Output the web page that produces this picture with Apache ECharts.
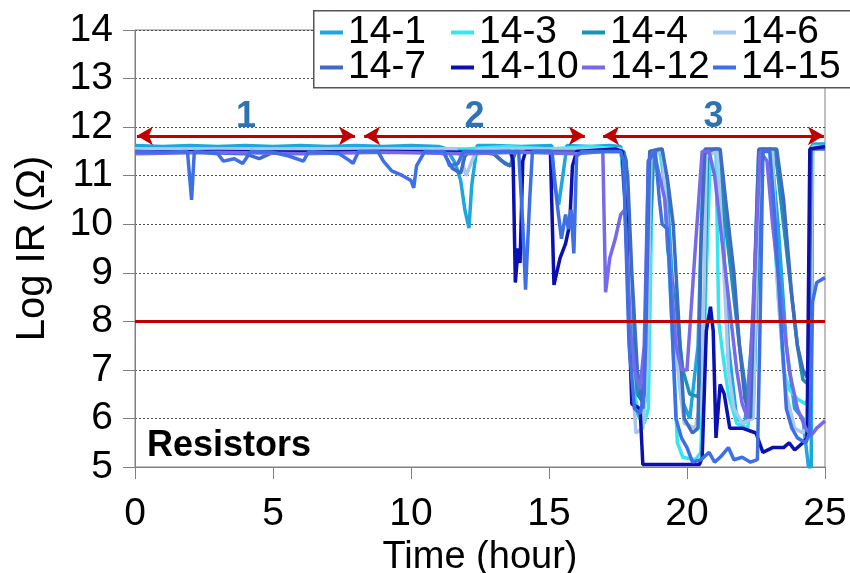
<!DOCTYPE html>
<html><head><meta charset="utf-8">
<script src="https://cdn.jsdelivr.net/npm/echarts@6/dist/echarts.min.js"></script>
<style>html,body{margin:0;padding:0;background:#fff}#c{width:850px;height:573px}</style>
</head><body><div id="c"></div>
<script>
// ---- data (time in hours, Log IR) ----
const seriesNames = ['14-1','14-3','14-4','14-6','14-7','14-10','14-12','14-15'];
const s14_1 = [[0,11.62],[1,11.6],[2,11.62],[3,11.6],[4,11.62],[5,11.6],[6,11.62],[7,11.6],[8,11.62],[9,11.6],[10,11.62],[11,11.6],[11.3,11.55],[11.45,11.4],[11.6,11.26],[11.8,10.9],[11.95,10.3],[12.1,9.92],[12.2,10.8],[12.4,11.62],[13,11.62],[14,11.6],[15.1,11.62],[15.2,10.8],[15.35,10.4],[15.5,11.0],[15.65,11.62],[16.5,11.6],[17.2,11.62],[17.6,11.6],[17.75,10.5],[17.95,7.5],[18.1,6.2],[18.3,6.0],[18.5,6.4],[18.65,11.5],[19.0,11.55],[19.25,11.0],[19.5,8.5],[19.8,6.4],[20.1,6.0],[20.4,7.5],[20.6,11.5],[21.05,11.55],[21.25,10.5],[21.5,7.5],[21.8,6.0],[22.1,5.9],[22.4,8.0],[22.6,11.5],[23.05,11.55],[23.3,10.0],[23.6,7.5],[23.9,6.2],[24.2,6.0],[24.4,5.0],[24.5,5.0],[24.55,11.65],[25,11.65]];
const s14_3 = [[0,11.55],[3,11.55],[6,11.55],[9,11.55],[12,11.55],[13.5,11.6],[15,11.55],[16.5,11.6],[17.6,11.55],[17.75,10.8],[17.9,9.0],[18.1,6.5],[18.3,6.0],[18.45,5.9],[18.6,6.2],[18.75,11.4],[19.0,11.55],[19.2,10.8],[19.45,8.0],[19.65,5.5],[19.85,5.2],[20.3,5.15],[20.5,5.3],[20.7,9.0],[20.85,11.5],[21.05,11.5],[21.15,8.0],[21.3,7.3],[21.5,6.5],[21.8,5.9],[22.2,5.8],[22.45,7.0],[22.65,11.5],[23.0,11.55],[23.25,9.0],[23.5,7.0],[23.7,6.6],[24.0,6.4],[24.3,6.3],[24.45,6.5],[24.52,11.6],[25,11.6]];
const s14_4 = [[0,11.52],[4,11.5],[8,11.52],[12,11.5],[13,11.45],[13.3,11.3],[13.6,11.2],[13.8,11.5],[16,11.52],[17.7,11.5],[17.8,11.3],[18.0,8.0],[18.2,6.5],[18.45,6.3],[18.6,9.0],[18.8,11.5],[19.1,11.55],[19.3,9.5],[19.55,8.5],[19.85,7.0],[20.1,6.5],[20.4,6.45],[20.6,7.5],[20.75,11.5],[21.1,11.55],[21.35,10.2],[21.6,9.0],[21.9,7.5],[22.2,6.3],[22.4,6.2],[22.55,9.0],[22.75,11.55],[23.2,11.5],[23.4,10.5],[23.7,9.0],[24.0,7.5],[24.2,6.8],[24.4,6.7],[24.5,11.6],[25,11.6]];
const s14_6 = [[0,11.55],[5,11.55],[10,11.55],[11.6,11.55],[11.8,11.4],[12.0,11.0],[12.2,11.3],[12.4,11.55],[17.6,11.55],[17.8,11.0],[18.0,7.0],[18.15,5.7],[18.4,5.8],[18.55,7.0],[18.7,11.5],[19.1,11.5],[19.4,9.0],[19.7,6.8],[19.9,5.9],[20.3,5.8],[20.55,6.5],[20.7,11.4],[21.1,11.5],[21.3,9.5],[21.5,7.0],[21.7,6.2],[22.0,5.9],[22.4,6.0],[22.55,10.0],[22.7,11.55],[23.1,11.5],[23.3,8.5],[23.6,6.5],[23.9,5.8],[24.2,5.7],[24.45,5.9],[24.55,11.6],[25,11.6]];
const s14_7 = [[0,11.5],[2,11.48],[4,11.45],[4.5,11.35],[5,11.48],[8,11.5],[10.5,11.5],[11.2,11.45],[11.5,11.15],[11.8,11.05],[11.95,11.4],[12.1,11.5],[13.0,11.45],[13.4,11.25],[13.6,11.2],[13.75,11.5],[16.5,11.5],[17.7,11.5],[17.85,11.0],[18.0,9.0],[18.2,7.0],[18.4,6.2],[18.5,7.5],[18.65,11.5],[19.1,11.55],[19.3,10.9],[19.5,10.0],[19.7,8.0],[19.9,6.0],[20.2,5.7],[20.4,5.8],[20.5,9.5],[20.65,11.55],[21.2,11.55],[21.4,10.5],[21.7,9.0],[21.9,7.5],[22.1,6.4],[22.3,6.0],[22.45,9.0],[22.6,11.55],[23.25,11.55],[23.5,10.5],[23.8,8.5],[24.0,7.5],[24.2,7.0],[24.4,6.8],[24.5,11.55],[25,11.55]];
const s14_10 = [[0,11.48],[3,11.5],[6,11.48],[9,11.5],[12,11.48],[13.6,11.5],[13.7,11.3],[13.78,8.8],[13.88,9.5],[13.95,9.2],[14.05,11.3],[14.15,11.5],[15.05,11.5],[15.18,8.75],[15.4,9.3],[15.6,9.6],[15.75,10.0],[15.85,11.2],[16.0,11.5],[17.4,11.55],[17.65,11.5],[17.8,10.1],[17.9,8.0],[18.0,6.3],[18.3,6.2],[18.4,5.05],[20.45,5.05],[20.55,5.2],[20.7,7.8],[20.85,8.3],[20.95,7.8],[21.05,5.6],[21.2,6.7],[21.35,6.5],[21.55,5.8],[22.0,5.8],[22.5,5.7],[22.75,5.3],[23.1,5.4],[23.5,5.4],[23.7,5.5],[23.9,5.35],[24.2,5.5],[24.35,5.6],[24.45,11.55],[25,11.6]];
const s14_12 = [[0,11.45],[3,11.48],[6,11.45],[9,11.48],[12,11.45],[14,11.48],[16,11.45],[16.95,11.5],[17.05,8.6],[17.2,9.3],[17.4,9.7],[17.6,10.2],[17.75,10.3],[17.95,7.8],[18.1,7.0],[18.3,6.6],[18.45,7.5],[18.6,11.3],[18.8,11.5],[19.0,11.0],[19.2,10.5],[19.4,9.0],[19.6,7.5],[19.8,7.0],[20.0,7.0],[20.3,9.5],[20.55,11.5],[20.8,11.5],[21.0,11.0],[21.3,9.5],[21.6,8.0],[21.8,7.0],[22.0,6.3],[22.2,6.0],[22.45,9.0],[22.65,11.5],[22.9,11.3],[23.1,10.0],[23.4,8.5],[23.7,7.0],[24.0,6.2],[24.3,5.8],[24.5,5.65],[24.7,5.8],[25,5.95]];
const s14_15 = [[0,11.5],[1,11.48],[1.9,11.5],[2.05,10.5],[2.15,11.5],[3.0,11.45],[3.2,11.3],[3.6,11.35],[3.9,11.25],[4.2,11.5],[5.0,11.48],[5.6,11.4],[6.1,11.3],[6.3,11.5],[7.4,11.45],[7.8,11.3],[7.9,11.25],[8.1,11.5],[8.8,11.5],[9.0,11.3],[9.3,11.1],[9.7,11.0],[10.0,10.9],[10.1,10.75],[10.2,11.2],[10.5,11.5],[11.2,11.5],[11.4,11.2],[11.7,11.25],[11.9,11.5],[13.9,11.5],[14.05,10.0],[14.15,8.65],[14.3,10.5],[14.4,11.5],[15.1,11.5],[15.3,10.4],[15.45,9.7],[15.6,10.2],[15.7,9.9],[15.8,10.3],[15.9,9.4],[16.0,11.4],[16.2,11.5],[17.6,11.5],[17.7,11.3],[17.9,7.5],[18.1,6.2],[18.3,6.1],[18.45,6.5],[18.6,11.3],[18.85,11.5],[19.0,10.5],[19.1,10.0],[19.3,9.9],[19.45,8.0],[19.6,6.0],[19.8,5.6],[20.0,5.4],[20.2,5.1],[20.5,5.15],[20.8,5.3],[21.0,5.1],[21.2,5.2],[21.5,5.4],[21.7,5.15],[22.0,5.2],[22.3,5.1],[22.55,5.15],[22.65,8.0],[22.75,11.5],[23.0,11.5],[23.2,10.0],[23.4,8.0],[23.6,6.2],[23.8,5.8],[24.0,5.6],[24.3,5.5],[24.45,5.7],[24.55,8.4],[24.7,8.8],[25,8.9]];
const seriesData = [s14_1, s14_3, s14_4, s14_6, s14_7, s14_10, s14_12, s14_15];
const yTicks = [5,6,7,8,9,10,11,12,13,14];
const xTicks = [0,5,10,15,20,25];
// annotations
const phaseStart = [0.07, 8.3, 16.96];
const phaseEnd = [7.97, 16.3, 24.96];
const phaseLabels = ['1','2','3'];
const phaseLevel = 11.82;
const failLimit = 8;

const colors = ['#1ea6df','#35e6ef','#1a93b4','#a7c9ef','#3d6cc2','#0b10b0','#7669ea','#3f6fe7'];
const FONT = 'Liberation Sans';
const RED = '#c00000';

const series = seriesNames.map((n,i)=>({
  name:n, type:'line', data:seriesData[i], showSymbol:false, symbol:'none',
  lineStyle:{width:3.5,color:colors[i]}, itemStyle:{color:colors[i]}, animation:false, z:2
}));
series.push({
  name:'annot', type:'line', data:[], animation:false, z:5,
  markLine:{
    silent:true, animation:false, symbol:['none','none'],
    data:[
      {yAxis:failLimit, lineStyle:{color:RED,width:3,type:'solid'}, label:{show:false}},
      ...phaseStart.map((s,i)=>[
        {coord:[s,phaseLevel], symbol:'arrow', symbolSize:[14,16], lineStyle:{color:RED,width:3,type:'solid'},
         label:{show:true, position:'middle', formatter:phaseLabels[i], fontSize:36, fontWeight:'bold', color:'#2e74b5', fontFamily:FONT, distance:1}},
        {coord:[phaseEnd[i],phaseLevel], symbol:'arrow', symbolSize:[14,16]}
      ])
    ]
  }
});

// one legend component per entry, laid out on a 4x2 grid
const legendCols = [320, 451, 582, 713];
const legendRows = [13, 48];
const legends = seriesNames.map((n,i)=>({
  data:[n], left:legendCols[i%4], top:legendRows[Math.floor(i/4)],
  orient:'horizontal', padding:0, itemWidth:23, itemHeight:4, icon:'rect', z:10,
  textStyle:{fontSize:39, color:'#000', fontFamily:FONT}
}));

const chart = echarts.init(document.getElementById('c'), null, {renderer:'canvas'});
chart.setOption({
  animation:false,
  backgroundColor:'#fff',
  textStyle:{fontFamily:FONT},
  grid:{left:135, right:25, top:30, bottom:106, show:true, borderColor:'#808080', borderWidth:1, containLabel:false, outerBoundsMode:'none'},
  legend:legends,
  xAxis:{
    type:'value', min:0, max:25, interval:5,
    name:'Time (hour)', nameLocation:'middle', nameGap:57,
    nameTextStyle:{fontSize:38, color:'#000', fontFamily:FONT},
    axisLine:{show:true, lineStyle:{color:'#808080', width:1}},
    axisTick:{show:true, inside:false, length:12, lineStyle:{color:'#808080'}},
    axisLabel:{fontSize:39, color:'#000', margin:28, fontFamily:FONT,
      formatter:v=>xTicks.includes(v)?String(v):''},
    splitLine:{show:false}
  },
  yAxis:{
    type:'value', min:5, max:14, interval:1,
    name:'Log IR (\u03A9)', nameLocation:'middle', nameGap:82, nameRotate:90,
    nameTextStyle:{fontSize:40, color:'#000', fontFamily:FONT},
    axisLine:{show:true, lineStyle:{color:'#808080', width:1}},
    axisTick:{show:true, inside:false, length:12, lineStyle:{color:'#808080'}},
    axisLabel:{fontSize:39, color:'#000', margin:22, fontFamily:FONT,
      formatter:v=>yTicks.includes(v)?String(v):''},
    splitLine:{show:true, lineStyle:{color:'#555', width:1, type:[2,2]}}
  },
  graphic:[
    {type:'rect', left:313, top:10, z:3,
     shape:{width:560, height:77}, style:{fill:'#fff', stroke:'#555', lineWidth:1.5}},
    {type:'text', left:147, top:428, z:10,
     style:{text:'Resistors', font:'bold 36px "Liberation Sans"', fill:'#000'}}
  ],
  series
});
</script></body></html>
